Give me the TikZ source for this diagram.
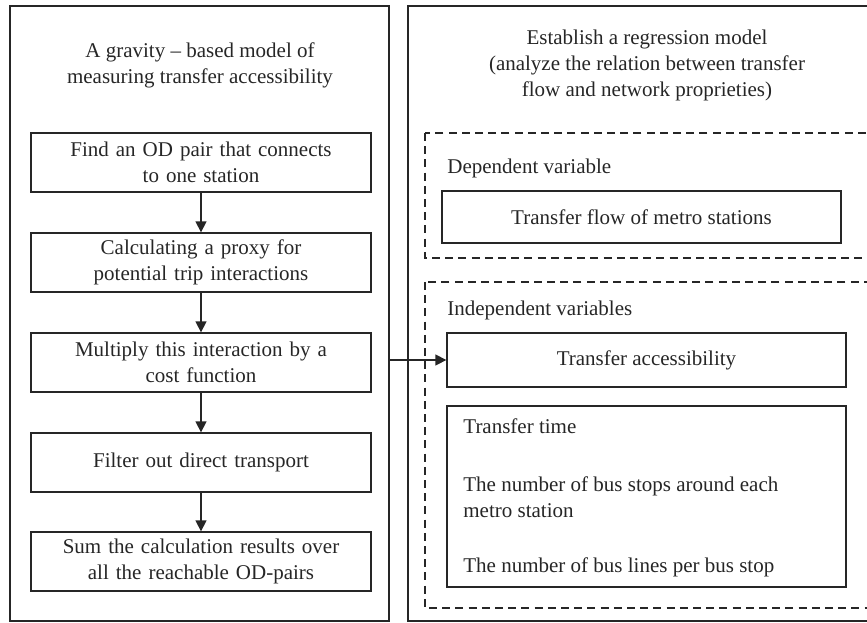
\documentclass[tikz,border=0pt]{standalone}
\usepackage{fontspec}
\setmainfont{Liberation Serif}
\usetikzlibrary{arrows.meta}

\tikzset{
    stepbox/.style = {rectangle, draw, line width = 0.65pt,
                      minimum width = 170pt, text width = 166pt,
                      align = center, inner sep = 0pt},
    varbox/.style  = {rectangle, draw, line width = 0.65pt,
                      minimum width = 199.5pt, inner sep = 0pt},
    plain/.style   = {inner sep = 0pt, anchor = west},
    panel/.style   = {draw, line width = 0.65pt},
    group/.style   = {draw, line width = 0.6pt, dash pattern = on 4pt off 2.6pt}
}

\begin{document}
\begin{tikzpicture}[x=0.5pt, y=-0.5pt, font=\fontsize{10.5}{13}\selectfont,
                    color=black!85, >={Triangle[length=5.5pt, width=5.5pt]}]

    \clip (0,0) rectangle (867,622);

    % left panel
    \node[rectangle,
          panel,
          minimum width = 189.5pt,
          minimum height = 307.5pt
          ] (gravity) at (199.5,313.5) {};
    \node[align = center] (gtitle) at (200,65)
        {A gravity -- based model of\\measuring transfer accessibility};

    \node[stepbox, minimum height = 29.5pt] (find) at (201,162.5)
        {Find an OD pair that connects\\to one station};
    \node[stepbox, minimum height = 29.5pt] (proxy) at (201,262.5)
        {Calculating a proxy for\\potential trip interactions};
    \node[stepbox, minimum height = 29.5pt] (cost) at (201,362.5)
        {Multiply this interaction by a\\cost function};
    \node[stepbox, minimum height = 29.5pt] (filter) at (201,462.5)
        {Filter out direct transport};
    \node[stepbox, minimum height = 29.5pt] (sum) at (201,561.5)
        {Sum the calculation results over\\all the reachable OD-pairs};

    % right panel
    \draw[panel] (408,6) rectangle (890,621);
    \node[align = center] (rtitle) at (647,65)
        {Establish a regression model\\(analyze the relation between transfer\\flow and network proprieties)};

    \draw[group] (425,133) rectangle (890,258);
    \node[plain] (dep) at (447,168) {Dependent variable};
    \node[varbox, minimum height = 26pt] (flow) at (641.5,217)
        {Transfer flow of metro stations};

    \draw[group] (425,282) rectangle (890,608);
    \node[plain] (indep) at (447,310) {Independent variables};
    \node[varbox, minimum height = 27pt] (access) at (646.5,360)
        {Transfer accessibility};
    \node[varbox, minimum height = 90.5pt] (timebox) at (646.5,496.5) {};
    \node[plain] (ttime) at (463,426) {Transfer time};
    \node[plain, align = left] (stops) at (463,497)
        {The number of bus stops around each\\metro station};
    \node[plain] (lines) at (463,567) {The number of bus lines per bus stop};

    \path[->, line width = 0.65pt]
    (find) edge (proxy)
    (proxy) edge (cost)
    (cost) edge (filter)
    (filter) edge (sum)
    (access.west -| gravity.east) edge (access.west);

\end{tikzpicture}
\end{document}
